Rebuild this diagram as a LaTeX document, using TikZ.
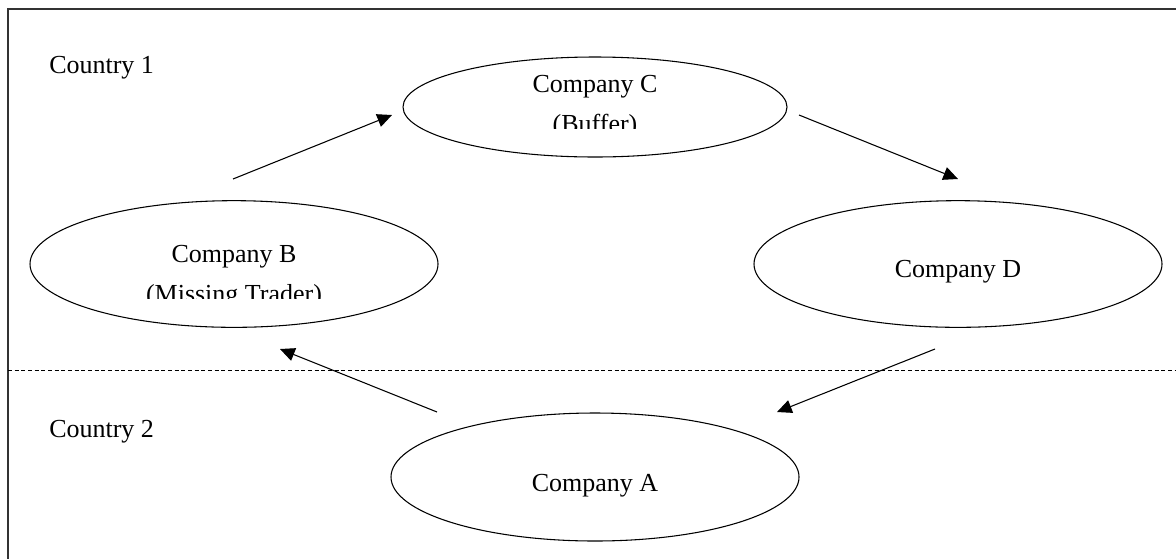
\documentclass[tikz,border=0pt]{standalone}
\usepackage{fontspec}
\setmainfont{Liberation Serif}
\usetikzlibrary{shapes.geometric, arrows.meta, positioning}

\begin{document}
\begin{tikzpicture}[x=0.75pt,y=-0.75pt,>={Triangle[length=11pt,width=10pt]},
    font=\fontsize{19.5}{30}\selectfont]
    \tikzstyle{company}=[shape=ellipse,draw,line width=0.8pt,inner sep=0pt,minimum width=306pt,minimum height=95pt]
    \tikzstyle{caption}=[align=center,inner sep=0pt,anchor=base]
    \tikzstyle{flow}=[->,line width=0.8pt]

    \useasboundingbox (0,0) rectangle (1176,558);
    \draw[line width=1pt,black!80] (8,600) |- (1200,9);
    \draw[dash pattern=on 3pt off 2pt,line width=0.6pt] (8,370) -- (1200,370);

    \node[anchor=base west,inner sep=0pt] (L1) at (49,73) {Country 1};
    \node[anchor=base west,inner sep=0pt] (L2) at (49,437) {Country 2};

    \node[company,minimum width=288pt,minimum height=75pt] (C) at (595,107) {};
    \node[company] (B) at (234,264) {};
    \node[company] (D) at (958,264) {};
    \node[company,minimum height=96pt] (A) at (595,477) {};

    % second lines are cut off as in the text boxes
    \begin{scope}
      \clip (400,60) rectangle (790,128);
      \node[caption] (Ct) at (595,132) {Company C\\(Buffer)};
    \end{scope}
    \begin{scope}
      \clip (40,215) rectangle (430,298);
      \node[caption] (Bt) at (234,302) {Company B\\(Missing Trader)};
    \end{scope}
    \node[caption] (Dt) at (958,277) {Company D};
    \node[caption] (At) at (595,491) {Company A};

    \coordinate (BC0) at (233,179);
    \coordinate (BC1) at (392,115);
    \coordinate (CD0) at (799,115);
    \coordinate (CD1) at (958,179);
    \coordinate (DA0) at (935,349);
    \coordinate (DA1) at (777,412);
    \coordinate (AB0) at (437,412);
    \coordinate (AB1) at (280,349);

    \draw[flow] (BC0) -- (BC1);
    \draw[flow] (CD0) -- (CD1);
    \draw[flow] (DA0) -- (DA1);
    \draw[flow] (AB0) -- (AB1);
\end{tikzpicture}
\end{document}
